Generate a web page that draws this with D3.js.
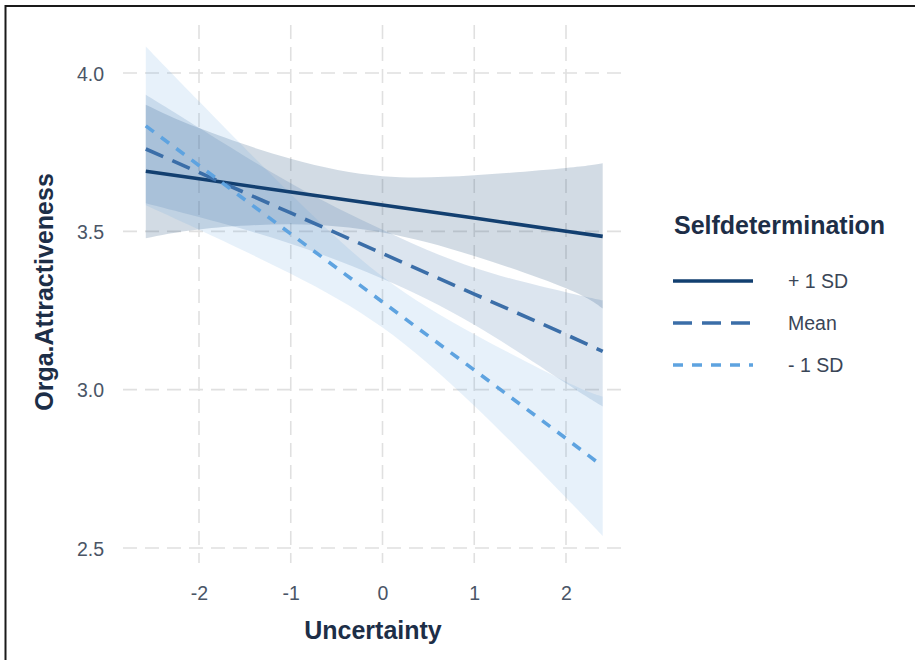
<!DOCTYPE html>
<html>
<head>
<meta charset="utf-8">
<script src="https://cdn.jsdelivr.net/npm/d3@7"></script>
<style>
  html, body { margin: 0; padding: 0; background: #ffffff; }
  svg { display: block; font-family: "Liberation Sans", Arial, Helvetica, sans-serif; }
</style>
</head>
<body>
<svg id="chart" width="915" height="660"></svg>
<script>
// Simple slopes of Orga.Attractiveness on Uncertainty at three levels of Selfdetermination
const uncertainty = [-2.58, -2, -1, 0, 1, 2, 2.40];

const plusFit  = [3.690, 3.666, 3.624, 3.583, 3.542, 3.500, 3.484];
const plusLow  = [3.478, 3.506, 3.522, 3.496, 3.422, 3.320, 3.256];
const plusHigh = [3.900, 3.826, 3.729, 3.674, 3.677, 3.700, 3.715];

const meanFit  = [3.760, 3.686, 3.558, 3.430, 3.302, 3.174, 3.121];
const meanLow  = [3.589, 3.545, 3.461, 3.350, 3.205, 3.020, 2.947];
const meanHigh = [3.931, 3.827, 3.652, 3.505, 3.385, 3.308, 3.282];

const minusFit  = [3.833, 3.708, 3.492, 3.277, 3.062, 2.846, 2.758];
const minusLow  = [3.582, 3.505, 3.366, 3.196, 2.949, 2.659, 2.538];
const minusHigh = [4.084, 3.911, 3.618, 3.357, 3.175, 3.025, 2.978];

const groupLabels = ["+ 1 SD", "Mean", "- 1 SD"];
const groupColors = ["#123f70", "#3b6ea8", "#5ea3e0"];
const groupFillOpacity = [0.19, 0.18, 0.15];
const groupDashes = [null, "19,10", "10,9"];

const xTicks = [-2, -1, 0, 1, 2];
const yTicks = [2.5, 3.0, 3.5, 4.0];

const xTitle = "Uncertainty";
const yTitle = "Orga.Attractiveness";
const legendTitle = "Selfdetermination";

const series = [
  { fit: plusFit,  low: plusLow,  high: plusHigh },
  { fit: meanFit,  low: meanLow,  high: meanHigh },
  { fit: minusFit, low: minusLow, high: minusHigh }
].map((s, i) => ({
  label: groupLabels[i],
  color: groupColors[i],
  opacity: groupFillOpacity[i],
  dash: groupDashes[i],
  points: uncertainty.map((u, j) => ({ x: u, y: s.fit[j], lo: s.low[j], hi: s.high[j] }))
}));

const svg = d3.select("#chart");

const x = d3.scaleLinear().domain([-2, 2]).range([199, 566]);
const y = d3.scaleLinear().domain([2.5, 4.0]).range([548, 73]);

const panel = { left: 123, right: 625, top: 25, bottom: 563 };

// frame
svg.append("line").attr("x1", 5).attr("x2", 915).attr("y1", 6).attr("y2", 6)
  .attr("stroke", "#1a1a1a").attr("stroke-width", 2);
svg.append("line").attr("x1", 5.5).attr("x2", 5.5).attr("y1", 5).attr("y2", 660)
  .attr("stroke", "#1a1a1a").attr("stroke-width", 2);

// grid
const grid = svg.append("g").attr("stroke", "#e0e0e0").attr("stroke-width", 1.6)
  .attr("stroke-dasharray", "14,8");
grid.selectAll(".hg").data(yTicks).join("line")
  .attr("x1", panel.left).attr("x2", panel.right)
  .attr("y1", d => y(d)).attr("y2", d => y(d));
grid.selectAll(".vg").data(xTicks).join("line")
  .attr("x1", d => x(d)).attr("x2", d => x(d))
  .attr("y1", panel.top).attr("y2", panel.bottom);

// confidence ribbons
const area = d3.area()
  .x(d => x(d.x)).y0(d => y(d.lo)).y1(d => y(d.hi))
  .curve(d3.curveNatural);
svg.append("g").selectAll("path").data(series).join("path")
  .attr("d", d => area(d.points))
  .attr("fill", d => d.color)
  .attr("fill-opacity", d => d.opacity);

// fitted lines
const line = d3.line().x(d => x(d.x)).y(d => y(d.y));
svg.append("g").selectAll("path").data(series).join("path")
  .attr("d", d => line(d.points))
  .attr("fill", "none")
  .attr("stroke", d => d.color)
  .attr("stroke-width", 3.6)
  .attr("stroke-dasharray", d => d.dash);

// axes (tick labels only)
const xAxis = d3.axisBottom(x).tickValues(xTicks).tickSize(0).tickPadding(0)
  .tickFormat(d => String(d));
const gx = svg.append("g").attr("transform", "translate(0,593)").call(xAxis);
gx.select(".domain").remove();
gx.selectAll("text").attr("dy", "0.35em").attr("font-size", 19.5)
  .attr("fill", "#4a5566").attr("font-family", null);

const yAxis = d3.axisLeft(y).tickValues(yTicks).tickSize(0).tickPadding(0)
  .tickFormat(d3.format(".1f"));
const gy = svg.append("g").attr("transform", "translate(104,1)").call(yAxis);
gy.select(".domain").remove();
gy.selectAll("text").attr("font-size", 19.5)
  .attr("fill", "#4a5566").attr("font-family", null);

// axis titles
svg.append("text").attr("x", 373).attr("y", 639)
  .attr("text-anchor", "middle").attr("font-size", 25).attr("font-weight", "bold")
  .attr("fill", "#1d2e47").text(xTitle);
svg.append("text")
  .attr("transform", "translate(53,292) rotate(-90)")
  .attr("text-anchor", "middle").attr("font-size", 25).attr("font-weight", "bold")
  .attr("fill", "#1d2e47").text(yTitle);

// legend
const legend = svg.append("g");
legend.append("text").attr("x", 674).attr("y", 234)
  .attr("font-size", 25).attr("font-weight", "bold").attr("fill", "#1d2e47")
  .text(legendTitle);
const keyY = [281, 323, 365];
const items = legend.selectAll(".item").data(series).join("g")
  .attr("transform", (d, i) => `translate(0,${keyY[i]})`);
items.append("line").attr("x1", 673).attr("x2", 753).attr("y1", 0).attr("y2", 0)
  .attr("stroke", d => d.color).attr("stroke-width", 3.6)
  .attr("stroke-dasharray", d => d.dash);
items.append("text").attr("x", 788).attr("y", 0).attr("dy", "0.35em")
  .attr("font-size", 19.5).attr("fill", "#3a4556")
  .text(d => d.label);
</script>
</body>
</html>
